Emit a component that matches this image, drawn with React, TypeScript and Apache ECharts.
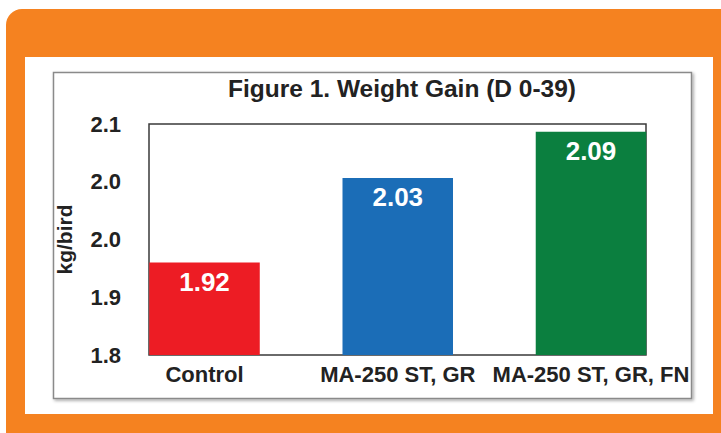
import React, { useEffect, useRef } from "react";
import * as echarts from "echarts";

const categories = ["Control", "MA-250 ST, GR", "MA-250 ST, GR, FN"];
const weightGain = [1.92, 2.03, 2.09];
const barColors = ["#ED1C24", "#1B6DB7", "#0B7F3F"];
const yTickLabels = ["1.8", "1.9", "2.0", "2.0", "2.1"];
const titleText = "Figure 1. Weight Gain (D 0-39)";
const yAxisName = "kg/bird";

const FONT = "'Liberation Sans', Arial, sans-serif";

export default function App() {
  const ref = useRef<HTMLDivElement>(null);
  useEffect(() => {
    document.body.style.margin = "0";
    const chart = echarts.init(ref.current!, null, { renderer: "svg" });
    const top = 124;
    const bottom = 433 - 355;
    chart.setOption({
      animation: false,
      backgroundColor: "#ffffff",
      title: {
        text: titleText,
        left: 397,
        top: 71,
        textAlign: "center",
        textStyle: { fontFamily: FONT, fontSize: 24.5, fontWeight: "bold", color: "#222" },
      },
      graphic: [
        {
          type: "rect",
          z: -10,
          silent: true,
          shape: { x: 6, y: 9, width: 730, height: 440, r: 16 },
          style: { fill: "#F58220" },
        },
        {
          type: "rect",
          z: -9,
          silent: true,
          shape: { x: 25, y: 57, width: 688, height: 357 },
          style: { fill: "#ffffff" },
        },
        {
          type: "rect",
          z: -8,
          silent: true,
          shape: { x: 53.5, y: 72.5, width: 638, height: 326 },
          style: {
            fill: "#ffffff",
            stroke: "#8a8a8a",
            lineWidth: 1.5,
            shadowBlur: 3,
            shadowOffsetX: 1.5,
            shadowOffsetY: 1.5,
            shadowColor: "rgba(0,0,0,0.35)",
          },
        },
      ],
      grid: [
        {
          left: 149,
          right: 721 - 646,
          top,
          bottom,
          show: true,
          borderColor: "#3a3a3a",
          borderWidth: 1.5,
          backgroundColor: "transparent",
        },
        {
          left: 107.9,
          right: 721 - 687.6,
          top,
          bottom,
        },
      ],
      xAxis: [
        { type: "value", gridIndex: 0, show: false, min: 0, max: 1 },
        {
          type: "category",
          gridIndex: 1,
          data: categories,
          axisLine: { show: false },
          axisTick: { show: false },
          axisLabel: {
            margin: 8,
            fontFamily: FONT,
            fontSize: 22,
            fontWeight: "bold",
            color: "#222",
            interval: 0,
          },
        },
      ],
      yAxis: [
        {
          type: "value",
          gridIndex: 0,
          min: 1.8,
          max: 2.1,
          interval: 0.075,
          name: yAxisName,
          nameLocation: "middle",
          nameRotate: 90,
          nameGap: 74,
          nameTextStyle: { fontFamily: FONT, fontSize: 21, fontWeight: "bold", color: "#222" },
          axisLine: { show: false },
          axisTick: { show: false },
          splitLine: { show: false },
          axisLabel: {
            margin: 28,
            fontFamily: FONT,
            fontSize: 22,
            fontWeight: "bold",
            color: "#222",
            formatter: (_v: number, i: number) => yTickLabels[i] ?? "",
          },
        },
        {
          type: "value",
          gridIndex: 1,
          min: 1.8,
          max: 2.1,
          show: false,
        },
      ],
      series: [
        {
          type: "bar",
          xAxisIndex: 1,
          yAxisIndex: 1,
          barWidth: 110.5,
          data: weightGain.map((v, i) => ({ value: v, itemStyle: { color: barColors[i] } })),
          label: {
            show: true,
            position: "insideTop",
            distance: 6,
            fontFamily: FONT,
            fontSize: 26,
            fontWeight: "bold",
            color: "#ffffff",
            formatter: (p: any) => p.value.toFixed(2),
          },
        },
      ],
    });
    return () => chart.dispose();
  }, []);
  return <div ref={ref} style={{ width: 721, height: 433 }} />;
}
